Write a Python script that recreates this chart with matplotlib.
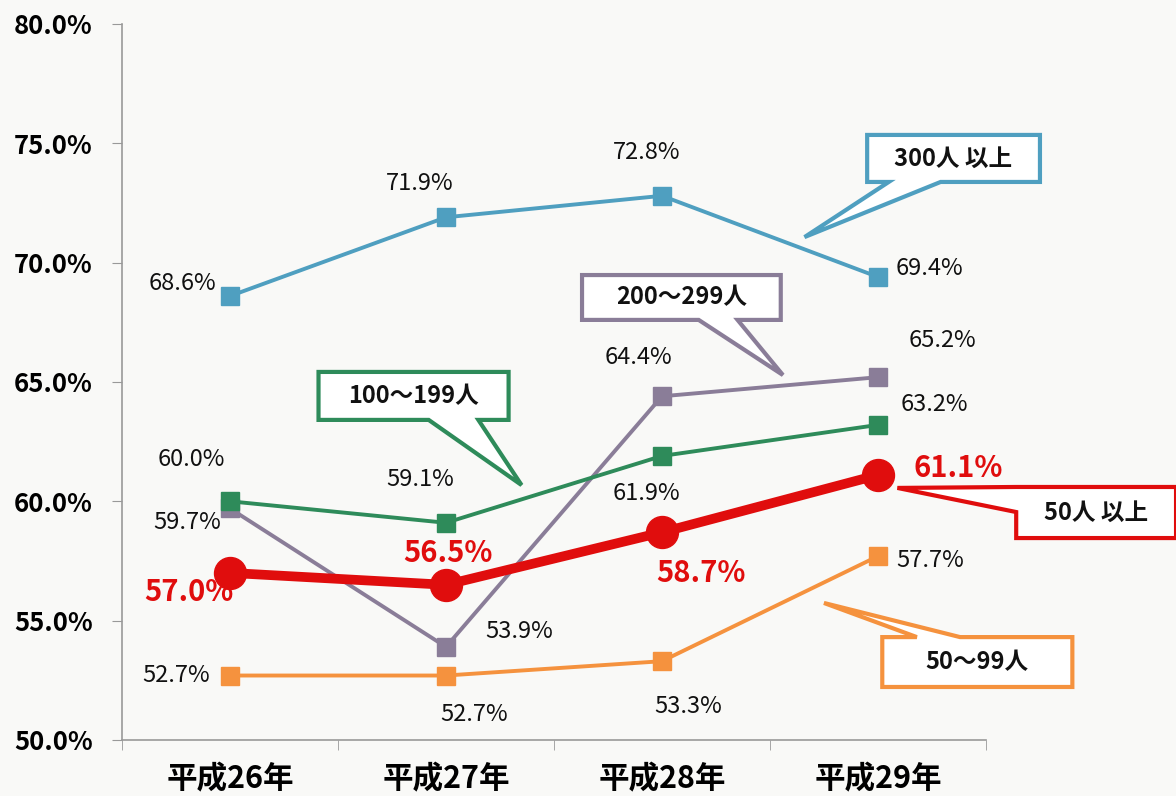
import matplotlib
matplotlib.use('Agg')
import matplotlib.pyplot as plt
from matplotlib.patches import Polygon

plt.rcParams['font.family'] = ['Noto Sans CJK JP', 'DejaVu Sans']

years = ['平成26年', '平成27年', '平成28年', '平成29年']
s300 = [68.6, 71.9, 72.8, 69.4]
s200 = [59.7, 53.9, 64.4, 65.2]
s100 = [60.0, 59.1, 61.9, 63.2]
s50plus = [57.0, 56.5, 58.7, 61.1]
s50 = [52.7, 52.7, 53.3, 57.7]

c300 = '#4f9fc0'
c200 = '#8a7d98'
c100 = '#2e8b5a'
c50plus = '#e00d0d'
c50 = '#f5923e'

fig = plt.figure(figsize=(11.76, 7.96), dpi=100)
fig.patch.set_facecolor('#f9f9f7')
ax = fig.add_axes([0.1037, 0.0704, 0.7347, 0.8995])
ax.set_facecolor('none')

x = range(len(years))
ax.plot(x, s300, color=c300, lw=2.8, marker='s', ms=13, zorder=3)
ax.plot(x, s200, color=c200, lw=2.8, marker='s', ms=13, zorder=3)
ax.plot(x, s100, color=c100, lw=2.8, marker='s', ms=13, zorder=3)
ax.plot(x, s50, color=c50, lw=2.8, marker='s', ms=13, zorder=3)
ax.plot(x, s50plus, color=c50plus, lw=7, marker='o', ms=23, zorder=4)

ax.set_xlim(-0.5, 3.5)
ax.set_ylim(50, 80)
ax.set_yticks([50, 55, 60, 65, 70, 75, 80])
ax.set_yticklabels([f'{v:.1f}%' for v in [50, 55, 60, 65, 70, 75, 80]],
                   fontsize=18.5, fontweight='bold')
ax.set_xticks(list(x))
ax.set_xticklabels(years, fontsize=22, fontweight='bold')
ax.set_xticks([-0.5, 0.5, 1.5, 2.5, 3.5], minor=True)
ax.tick_params(axis='x', which='major', length=0, pad=17)
ax.tick_params(axis='x', which='minor', length=7, color='#999999')
ax.tick_params(axis='y', length=7, color='#999999', pad=14)
for side in ['top', 'right']:
    ax.spines[side].set_visible(False)
for side in ['left', 'bottom']:
    ax.spines[side].set_color('#999999')
    ax.spines[side].set_linewidth(1.2)


def lab(xi, v, dx, dy, color='#111111', bold=False, size=17):
    ax.text(xi + dx, v + dy, f'{v:.1f}%', ha='center', va='center',
            fontsize=size, color=color,
            fontweight='bold' if bold else 'normal', zorder=6)


lab(0, s300[0], -0.22, 0.54)
lab(1, s300[1], -0.12, 1.42)
lab(2, s300[2], -0.07, 1.8)
lab(3, s300[3], 0.24, 0.34)

lab(0, s200[0], -0.2, -0.59)
lab(1, s200[1], 0.34, 0.63)
lab(2, s200[2], -0.11, 1.63)
lab(3, s200[3], 0.3, 1.55)

lab(0, s100[0], -0.18, 1.76)
lab(1, s100[1], -0.12, 1.8)
lab(2, s100[2], -0.07, -1.59)
lab(3, s100[3], 0.26, 0.84)

lab(0, s50plus[0], -0.19, -0.8, c50plus, True, 21)
lab(1, s50plus[1], 0.01, 1.34, c50plus, True, 21)
lab(2, s50plus[2], 0.18, -1.72, c50plus, True, 21)
lab(3, s50plus[3], 0.37, 0.3, c50plus, True, 21)

lab(0, s50[0], -0.25, 0.0)
lab(1, s50[1], 0.13, -1.63)
lab(2, s50[2], 0.12, -1.88)
lab(3, s50[3], 0.24, -0.17)


def callout(text, color, x0, x1, y0, y1, edge, b1, b2, tip):
    # speech bubble: box plus a pointer leaving one edge
    if edge == 'bottom':
        pts = [(x0, y1), (x1, y1), (x1, y0), (b2, y0), tip, (b1, y0), (x0, y0)]
    elif edge == 'top':
        pts = [(x0, y1), (b1, y1), tip, (b2, y1), (x1, y1), (x1, y0), (x0, y0)]
    else:
        pts = [(x0, y1), (x1, y1), (x1, y0), (x0, y0), (x0, b1), tip, (x0, b2)]
    poly = Polygon(pts, closed=True, facecolor='white', edgecolor=color,
                   lw=3, clip_on=False, zorder=7, joinstyle='miter')
    ax.add_patch(poly)
    ax.text((x0 + x1) / 2, (y0 + y1) / 2, text, ha='center', va='center',
            fontsize=17, fontweight='bold', color='#111111', zorder=8,
            clip_on=False)


callout('300人 以上', c300, 2.95, 3.75, 73.38, 75.35, 'bottom', 3.05, 3.29, (2.66, 71.07))
callout('100～199人', c100, 0.41, 1.29, 63.41, 65.42, 'bottom', 0.92, 1.15, (1.35, 60.68))
callout('200～299人', c200, 1.63, 2.55, 67.6, 69.48, 'bottom', 2.17, 2.35, (2.56, 65.29))
callout('50人 以上', c50plus, 3.64, 4.38, 58.46, 60.6, 'left', 59.55, 60.6, (3.09, 60.56))
callout('50～99人', c50, 3.02, 3.9, 52.22, 54.31, 'top', 3.18, 3.38, (2.75, 55.74))

fig.savefig('out.png', dpi=100, facecolor=fig.get_facecolor())
